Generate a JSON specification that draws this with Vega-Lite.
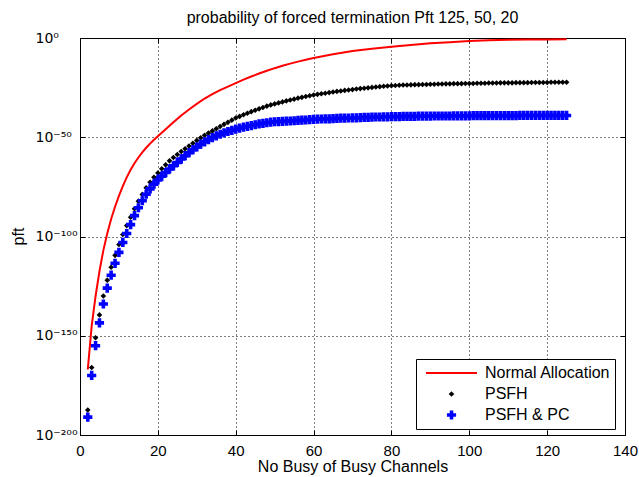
{
"$schema":"https://vega.github.io/schema/vega-lite/v6.json",
"width":545,"height":397,
"autosize":"none",
"padding":{"left":80,"top":38,"right":14,"bottom":42},
"background":"white",
"config":{"font":"Liberation Sans","view":{"stroke":"black","strokeWidth":1},
"axis":{"domain":false,"tickColor":"black","tickSize":-5,"tickWidth":1,"labelColor":"black","labelFontSize":15,"titleFontSize":16,"titleFontWeight":"normal","titleColor":"black","labelFlush":false,"labelOverlap":false,"labelBound":false,"gridColor":"black","gridDash":[1,3],"gridOpacity":1,"gridWidth":1}},
"title":{"text":"probability of forced termination Pft 125, 50, 20","fontSize":16,"fontWeight":"normal","color":"black","offset":5,"anchor":"middle"},
"datasets":{
"normal":[{"x":2,"series":"Normal Allocation","log10pft":-167},{"x":3,"series":"Normal Allocation","log10pft":-145},{"x":4,"series":"Normal Allocation","log10pft":-130},{"x":5,"series":"Normal Allocation","log10pft":-117.5},{"x":6,"series":"Normal Allocation","log10pft":-107},{"x":7,"series":"Normal Allocation","log10pft":-98.5},{"x":8,"series":"Normal Allocation","log10pft":-91.2},{"x":9,"series":"Normal Allocation","log10pft":-85},{"x":10,"series":"Normal Allocation","log10pft":-79.5},{"x":11,"series":"Normal Allocation","log10pft":-74.6},{"x":12,"series":"Normal Allocation","log10pft":-70.2},{"x":13,"series":"Normal Allocation","log10pft":-66.4},{"x":14,"series":"Normal Allocation","log10pft":-63.1},{"x":15,"series":"Normal Allocation","log10pft":-60.2},{"x":16,"series":"Normal Allocation","log10pft":-57.6},{"x":17,"series":"Normal Allocation","log10pft":-55.3},{"x":18,"series":"Normal Allocation","log10pft":-53.2},{"x":19,"series":"Normal Allocation","log10pft":-51.3},{"x":20,"series":"Normal Allocation","log10pft":-49.5},{"x":22,"series":"Normal Allocation","log10pft":-46},{"x":24,"series":"Normal Allocation","log10pft":-42.5},{"x":26,"series":"Normal Allocation","log10pft":-39},{"x":28,"series":"Normal Allocation","log10pft":-36},{"x":30,"series":"Normal Allocation","log10pft":-33.2},{"x":32,"series":"Normal Allocation","log10pft":-30.5},{"x":34,"series":"Normal Allocation","log10pft":-28.3},{"x":36,"series":"Normal Allocation","log10pft":-26.3},{"x":38,"series":"Normal Allocation","log10pft":-24.5},{"x":40,"series":"Normal Allocation","log10pft":-22.7},{"x":42,"series":"Normal Allocation","log10pft":-21},{"x":44,"series":"Normal Allocation","log10pft":-19.4},{"x":46,"series":"Normal Allocation","log10pft":-17.9},{"x":48,"series":"Normal Allocation","log10pft":-16.5},{"x":50,"series":"Normal Allocation","log10pft":-15.2},{"x":52,"series":"Normal Allocation","log10pft":-14},{"x":54,"series":"Normal Allocation","log10pft":-12.9},{"x":56,"series":"Normal Allocation","log10pft":-11.9},{"x":58,"series":"Normal Allocation","log10pft":-11},{"x":60,"series":"Normal Allocation","log10pft":-10.1},{"x":65,"series":"Normal Allocation","log10pft":-8.2},{"x":70,"series":"Normal Allocation","log10pft":-6.6},{"x":75,"series":"Normal Allocation","log10pft":-5.4},{"x":80,"series":"Normal Allocation","log10pft":-4.4},{"x":85,"series":"Normal Allocation","log10pft":-3.5},{"x":90,"series":"Normal Allocation","log10pft":-2.7},{"x":95,"series":"Normal Allocation","log10pft":-2.1},{"x":100,"series":"Normal Allocation","log10pft":-1.5},{"x":105,"series":"Normal Allocation","log10pft":-1.15},{"x":110,"series":"Normal Allocation","log10pft":-0.9},{"x":115,"series":"Normal Allocation","log10pft":-0.78},{"x":120,"series":"Normal Allocation","log10pft":-0.7},{"x":125,"series":"Normal Allocation","log10pft":-0.65}],
"markers":[
{"x":2,"series":"PSFH","log10pft":-187.4},{"x":3,"series":"PSFH","log10pft":-166},{"x":4,"series":"PSFH","log10pft":-151},{"x":5,"series":"PSFH","log10pft":-139.5},{"x":6,"series":"PSFH","log10pft":-130},{"x":7,"series":"PSFH","log10pft":-122},{"x":8,"series":"PSFH","log10pft":-115.5},{"x":9,"series":"PSFH","log10pft":-109.5},{"x":10,"series":"PSFH","log10pft":-104},{"x":11,"series":"PSFH","log10pft":-99},{"x":12,"series":"PSFH","log10pft":-94.5},{"x":13,"series":"PSFH","log10pft":-90.3},{"x":14,"series":"PSFH","log10pft":-86},{"x":15,"series":"PSFH","log10pft":-82.2},{"x":16,"series":"PSFH","log10pft":-78.8},{"x":17,"series":"PSFH","log10pft":-75.5},{"x":18,"series":"PSFH","log10pft":-72.7},{"x":19,"series":"PSFH","log10pft":-70.2},{"x":20,"series":"PSFH","log10pft":-68},{"x":21,"series":"PSFH","log10pft":-65.9},{"x":22,"series":"PSFH","log10pft":-63.9},{"x":23,"series":"PSFH","log10pft":-61.9},{"x":24,"series":"PSFH","log10pft":-60.2},{"x":25,"series":"PSFH","log10pft":-58.7},{"x":26,"series":"PSFH","log10pft":-57.2},{"x":27,"series":"PSFH","log10pft":-55.8},{"x":28,"series":"PSFH","log10pft":-54.4},{"x":29,"series":"PSFH","log10pft":-53},{"x":30,"series":"PSFH","log10pft":-51.6},{"x":31,"series":"PSFH","log10pft":-50.3},{"x":32,"series":"PSFH","log10pft":-49},{"x":33,"series":"PSFH","log10pft":-47.9},{"x":34,"series":"PSFH","log10pft":-46.8},{"x":35,"series":"PSFH","log10pft":-45.7},{"x":36,"series":"PSFH","log10pft":-44.6},{"x":37,"series":"PSFH","log10pft":-43.5},{"x":38,"series":"PSFH","log10pft":-42.5},{"x":39,"series":"PSFH","log10pft":-41.4},{"x":40,"series":"PSFH","log10pft":-40.3},{"x":41,"series":"PSFH","log10pft":-39.5},{"x":42,"series":"PSFH","log10pft":-38.7},{"x":43,"series":"PSFH","log10pft":-37.9},{"x":44,"series":"PSFH","log10pft":-37.1},{"x":45,"series":"PSFH","log10pft":-36.4},{"x":46,"series":"PSFH","log10pft":-35.7},{"x":47,"series":"PSFH","log10pft":-35},{"x":48,"series":"PSFH","log10pft":-34.3},{"x":49,"series":"PSFH","log10pft":-33.7},{"x":50,"series":"PSFH","log10pft":-33.2},{"x":51,"series":"PSFH","log10pft":-32.7},{"x":52,"series":"PSFH","log10pft":-32.2},{"x":53,"series":"PSFH","log10pft":-31.7},{"x":54,"series":"PSFH","log10pft":-31.2},{"x":55,"series":"PSFH","log10pft":-30.8},{"x":56,"series":"PSFH","log10pft":-30.3},{"x":57,"series":"PSFH","log10pft":-29.9},{"x":58,"series":"PSFH","log10pft":-29.5},{"x":59,"series":"PSFH","log10pft":-29.1},{"x":60,"series":"PSFH","log10pft":-28.7},{"x":61,"series":"PSFH","log10pft":-28.4},{"x":62,"series":"PSFH","log10pft":-28.1},{"x":63,"series":"PSFH","log10pft":-27.8},{"x":64,"series":"PSFH","log10pft":-27.5},{"x":65,"series":"PSFH","log10pft":-27.2},{"x":66,"series":"PSFH","log10pft":-26.9},{"x":67,"series":"PSFH","log10pft":-26.7},{"x":68,"series":"PSFH","log10pft":-26.4},{"x":69,"series":"PSFH","log10pft":-26.2},{"x":70,"series":"PSFH","log10pft":-26},{"x":71,"series":"PSFH","log10pft":-25.7},{"x":72,"series":"PSFH","log10pft":-25.5},{"x":73,"series":"PSFH","log10pft":-25.3},{"x":74,"series":"PSFH","log10pft":-25.1},{"x":75,"series":"PSFH","log10pft":-24.9},{"x":76,"series":"PSFH","log10pft":-24.7},{"x":77,"series":"PSFH","log10pft":-24.5},{"x":78,"series":"PSFH","log10pft":-24.3},{"x":79,"series":"PSFH","log10pft":-24.2},{"x":80,"series":"PSFH","log10pft":-24},{"x":81,"series":"PSFH","log10pft":-23.9},{"x":82,"series":"PSFH","log10pft":-23.8},{"x":83,"series":"PSFH","log10pft":-23.7},{"x":84,"series":"PSFH","log10pft":-23.7},{"x":85,"series":"PSFH","log10pft":-23.6},{"x":86,"series":"PSFH","log10pft":-23.5},{"x":87,"series":"PSFH","log10pft":-23.5},{"x":88,"series":"PSFH","log10pft":-23.4},{"x":89,"series":"PSFH","log10pft":-23.4},{"x":90,"series":"PSFH","log10pft":-23.3},{"x":91,"series":"PSFH","log10pft":-23.3},{"x":92,"series":"PSFH","log10pft":-23.2},{"x":93,"series":"PSFH","log10pft":-23.2},{"x":94,"series":"PSFH","log10pft":-23.1},{"x":95,"series":"PSFH","log10pft":-23.1},{"x":96,"series":"PSFH","log10pft":-23},{"x":97,"series":"PSFH","log10pft":-23},{"x":98,"series":"PSFH","log10pft":-23},{"x":99,"series":"PSFH","log10pft":-22.9},{"x":100,"series":"PSFH","log10pft":-22.9},{"x":101,"series":"PSFH","log10pft":-22.9},{"x":102,"series":"PSFH","log10pft":-22.8},{"x":103,"series":"PSFH","log10pft":-22.8},{"x":104,"series":"PSFH","log10pft":-22.8},{"x":105,"series":"PSFH","log10pft":-22.7},{"x":106,"series":"PSFH","log10pft":-22.7},{"x":107,"series":"PSFH","log10pft":-22.7},{"x":108,"series":"PSFH","log10pft":-22.6},{"x":109,"series":"PSFH","log10pft":-22.6},{"x":110,"series":"PSFH","log10pft":-22.6},{"x":111,"series":"PSFH","log10pft":-22.6},{"x":112,"series":"PSFH","log10pft":-22.5},{"x":113,"series":"PSFH","log10pft":-22.5},{"x":114,"series":"PSFH","log10pft":-22.5},{"x":115,"series":"PSFH","log10pft":-22.5},{"x":116,"series":"PSFH","log10pft":-22.4},{"x":117,"series":"PSFH","log10pft":-22.4},{"x":118,"series":"PSFH","log10pft":-22.4},{"x":119,"series":"PSFH","log10pft":-22.4},{"x":120,"series":"PSFH","log10pft":-22.4},{"x":121,"series":"PSFH","log10pft":-22.3},{"x":122,"series":"PSFH","log10pft":-22.3},{"x":123,"series":"PSFH","log10pft":-22.3},{"x":124,"series":"PSFH","log10pft":-22.3},{"x":125,"series":"PSFH","log10pft":-22.3},
{"x":2,"series":"PSFH & PC","log10pft":-191},{"x":3,"series":"PSFH & PC","log10pft":-170},{"x":4,"series":"PSFH & PC","log10pft":-155},{"x":5,"series":"PSFH & PC","log10pft":-143.5},{"x":6,"series":"PSFH & PC","log10pft":-134},{"x":7,"series":"PSFH & PC","log10pft":-126},{"x":8,"series":"PSFH & PC","log10pft":-119.5},{"x":9,"series":"PSFH & PC","log10pft":-113.5},{"x":10,"series":"PSFH & PC","log10pft":-108},{"x":11,"series":"PSFH & PC","log10pft":-103},{"x":12,"series":"PSFH & PC","log10pft":-98.5},{"x":13,"series":"PSFH & PC","log10pft":-94},{"x":14,"series":"PSFH & PC","log10pft":-89.5},{"x":15,"series":"PSFH & PC","log10pft":-85.5},{"x":16,"series":"PSFH & PC","log10pft":-82},{"x":17,"series":"PSFH & PC","log10pft":-78.7},{"x":18,"series":"PSFH & PC","log10pft":-76},{"x":19,"series":"PSFH & PC","log10pft":-73.6},{"x":20,"series":"PSFH & PC","log10pft":-71.5},{"x":21,"series":"PSFH & PC","log10pft":-69.6},{"x":22,"series":"PSFH & PC","log10pft":-67.8},{"x":23,"series":"PSFH & PC","log10pft":-66},{"x":24,"series":"PSFH & PC","log10pft":-64.4},{"x":25,"series":"PSFH & PC","log10pft":-62.7},{"x":26,"series":"PSFH & PC","log10pft":-61},{"x":27,"series":"PSFH & PC","log10pft":-59.3},{"x":28,"series":"PSFH & PC","log10pft":-57.8},{"x":29,"series":"PSFH & PC","log10pft":-56.3},{"x":30,"series":"PSFH & PC","log10pft":-54.9},{"x":31,"series":"PSFH & PC","log10pft":-53.5},{"x":32,"series":"PSFH & PC","log10pft":-52.3},{"x":33,"series":"PSFH & PC","log10pft":-51.2},{"x":34,"series":"PSFH & PC","log10pft":-50.2},{"x":35,"series":"PSFH & PC","log10pft":-49.3},{"x":36,"series":"PSFH & PC","log10pft":-48.5},{"x":37,"series":"PSFH & PC","log10pft":-47.8},{"x":38,"series":"PSFH & PC","log10pft":-47.1},{"x":39,"series":"PSFH & PC","log10pft":-46.5},{"x":40,"series":"PSFH & PC","log10pft":-45.9},{"x":41,"series":"PSFH & PC","log10pft":-45.4},{"x":42,"series":"PSFH & PC","log10pft":-44.9},{"x":43,"series":"PSFH & PC","log10pft":-44.5},{"x":44,"series":"PSFH & PC","log10pft":-44.1},{"x":45,"series":"PSFH & PC","log10pft":-43.7},{"x":46,"series":"PSFH & PC","log10pft":-43.3},{"x":47,"series":"PSFH & PC","log10pft":-43},{"x":48,"series":"PSFH & PC","log10pft":-42.7},{"x":49,"series":"PSFH & PC","log10pft":-42.4},{"x":50,"series":"PSFH & PC","log10pft":-42.2},{"x":51,"series":"PSFH & PC","log10pft":-42.1},{"x":52,"series":"PSFH & PC","log10pft":-42},{"x":53,"series":"PSFH & PC","log10pft":-41.9},{"x":54,"series":"PSFH & PC","log10pft":-41.8},{"x":55,"series":"PSFH & PC","log10pft":-41.7},{"x":56,"series":"PSFH & PC","log10pft":-41.5},{"x":57,"series":"PSFH & PC","log10pft":-41.4},{"x":58,"series":"PSFH & PC","log10pft":-41.3},{"x":59,"series":"PSFH & PC","log10pft":-41.1},{"x":60,"series":"PSFH & PC","log10pft":-41},{"x":61,"series":"PSFH & PC","log10pft":-40.9},{"x":62,"series":"PSFH & PC","log10pft":-40.8},{"x":63,"series":"PSFH & PC","log10pft":-40.7},{"x":64,"series":"PSFH & PC","log10pft":-40.7},{"x":65,"series":"PSFH & PC","log10pft":-40.6},{"x":66,"series":"PSFH & PC","log10pft":-40.5},{"x":67,"series":"PSFH & PC","log10pft":-40.4},{"x":68,"series":"PSFH & PC","log10pft":-40.4},{"x":69,"series":"PSFH & PC","log10pft":-40.3},{"x":70,"series":"PSFH & PC","log10pft":-40.2},{"x":71,"series":"PSFH & PC","log10pft":-40.2},{"x":72,"series":"PSFH & PC","log10pft":-40.1},{"x":73,"series":"PSFH & PC","log10pft":-40},{"x":74,"series":"PSFH & PC","log10pft":-40},{"x":75,"series":"PSFH & PC","log10pft":-39.9},{"x":76,"series":"PSFH & PC","log10pft":-39.8},{"x":77,"series":"PSFH & PC","log10pft":-39.8},{"x":78,"series":"PSFH & PC","log10pft":-39.7},{"x":79,"series":"PSFH & PC","log10pft":-39.7},{"x":80,"series":"PSFH & PC","log10pft":-39.6},{"x":81,"series":"PSFH & PC","log10pft":-39.6},{"x":82,"series":"PSFH & PC","log10pft":-39.6},{"x":83,"series":"PSFH & PC","log10pft":-39.5},{"x":84,"series":"PSFH & PC","log10pft":-39.5},{"x":85,"series":"PSFH & PC","log10pft":-39.5},{"x":86,"series":"PSFH & PC","log10pft":-39.5},{"x":87,"series":"PSFH & PC","log10pft":-39.4},{"x":88,"series":"PSFH & PC","log10pft":-39.4},{"x":89,"series":"PSFH & PC","log10pft":-39.4},{"x":90,"series":"PSFH & PC","log10pft":-39.4},{"x":91,"series":"PSFH & PC","log10pft":-39.3},{"x":92,"series":"PSFH & PC","log10pft":-39.3},{"x":93,"series":"PSFH & PC","log10pft":-39.3},{"x":94,"series":"PSFH & PC","log10pft":-39.3},{"x":95,"series":"PSFH & PC","log10pft":-39.3},{"x":96,"series":"PSFH & PC","log10pft":-39.2},{"x":97,"series":"PSFH & PC","log10pft":-39.2},{"x":98,"series":"PSFH & PC","log10pft":-39.2},{"x":99,"series":"PSFH & PC","log10pft":-39.2},{"x":100,"series":"PSFH & PC","log10pft":-39.2},{"x":101,"series":"PSFH & PC","log10pft":-39.1},{"x":102,"series":"PSFH & PC","log10pft":-39.1},{"x":103,"series":"PSFH & PC","log10pft":-39.1},{"x":104,"series":"PSFH & PC","log10pft":-39.1},{"x":105,"series":"PSFH & PC","log10pft":-39.1},{"x":106,"series":"PSFH & PC","log10pft":-39.1},{"x":107,"series":"PSFH & PC","log10pft":-39.1},{"x":108,"series":"PSFH & PC","log10pft":-39.1},{"x":109,"series":"PSFH & PC","log10pft":-39.1},{"x":110,"series":"PSFH & PC","log10pft":-39.1},{"x":111,"series":"PSFH & PC","log10pft":-39.1},{"x":112,"series":"PSFH & PC","log10pft":-39.1},{"x":113,"series":"PSFH & PC","log10pft":-39},{"x":114,"series":"PSFH & PC","log10pft":-39},{"x":115,"series":"PSFH & PC","log10pft":-39},{"x":116,"series":"PSFH & PC","log10pft":-39},{"x":117,"series":"PSFH & PC","log10pft":-39},{"x":118,"series":"PSFH & PC","log10pft":-39},{"x":119,"series":"PSFH & PC","log10pft":-39},{"x":120,"series":"PSFH & PC","log10pft":-39},{"x":121,"series":"PSFH & PC","log10pft":-39},{"x":122,"series":"PSFH & PC","log10pft":-39},{"x":123,"series":"PSFH & PC","log10pft":-39},{"x":124,"series":"PSFH & PC","log10pft":-39},{"x":125,"series":"PSFH & PC","log10pft":-39}]
},
"layer":[
{"data":{"name":"normal"},
 "mark":{"type":"line","color":"red","strokeWidth":2,"clip":true},
 "encoding":{
  "x":{"field":"x","type":"quantitative","scale":{"domain":[0,140],"nice":false,"zero":false},
   "axis":{"title":"No Busy of Busy Channels","values":[0,20,40,60,80,100,120,140],"grid":true,"labelPadding":13,"titleY":31,"titleBaseline":"middle"}},
  "y":{"field":"log10pft","type":"quantitative","scale":{"domain":[-200,0],"nice":false,"zero":false},
   "axis":{"title":"pft","values":[-200,-150,-100,-50,0],"grid":true,"labelAlign":"left","labelBaseline":"middle","labelPadding":50,"labelDy":2,"labelFont":"DejaVu Sans","labelFontSize":14,"titleX":-62,"titleY":198,"titleBaseline":"middle","titleAngle":-90,
    "labelExpr":"datum.value == 0 ? '10⁰' : datum.value == -50 ? '10⁻⁵⁰' : datum.value == -100 ? '10⁻¹⁰⁰' : datum.value == -150 ? '10⁻¹⁵⁰' : '10⁻²⁰⁰'"}}
 }},
{"data":{"name":"markers"},
 "mark":{"type":"point","filled":true,"opacity":1,"size":2601,"clip":true},
 "encoding":{
  "x":{"field":"x","type":"quantitative","axis":null},
  "y":{"field":"log10pft","type":"quantitative","axis":null},
  "shape":{"field":"series","type":"nominal","scale":{"domain":["Normal Allocation","PSFH","PSFH & PC"],"range":["M-1,-0.04H1V0.04H-1Z","M0,-0.11L0.11,0L0,0.11L-0.11,0Z","M-0.07,-0.18H0.07V-0.07H0.18V0.07H0.07V0.18H-0.07V0.07H-0.18V-0.07H-0.07Z"]},
   "legend":{"title":null,"orient":"none","legendX":336,"legendY":321,"fillColor":"white","strokeColor":"black","padding":4,"symbolSize":2601,"symbolStrokeWidth":0,"clipHeight":20,"rowPadding":1,"labelFontSize":16,"labelColor":"black","labelOffset":8,"symbolOffset":6,"labelLimit":400}},
  "color":{"field":"series","type":"nominal","scale":{"domain":["Normal Allocation","PSFH","PSFH & PC"],"range":["red","black","blue"]},
   "legend":{"title":null,"orient":"none","legendX":336,"legendY":321,"fillColor":"white","strokeColor":"black","padding":4,"symbolSize":2601,"symbolStrokeWidth":0,"clipHeight":20,"rowPadding":1,"labelFontSize":16,"labelColor":"black","labelOffset":8,"symbolOffset":6,"labelLimit":400}}
 }},
{"data":{"name":"markers"},
 "mark":{"type":"point","opacity":0},
 "encoding":{
  "x":{"field":"x","type":"quantitative","axis":{"orient":"top","labels":false,"title":null,"grid":false,"values":[0,20,40,60,80,100,120,140]}},
  "y":{"field":"log10pft","type":"quantitative","axis":{"orient":"right","labels":false,"title":null,"grid":false,"values":[-200,-150,-100,-50,0]}}
 }}
],
"resolve":{"axis":{"x":"independent","y":"independent"}}
}
